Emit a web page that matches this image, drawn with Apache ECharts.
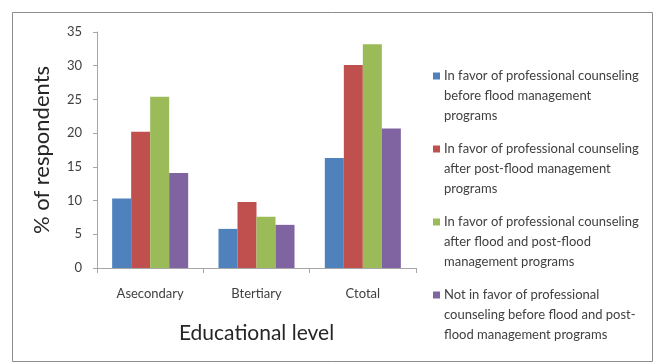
<!DOCTYPE html>
<html>
<head>
<meta charset="utf-8">
<script src="https://cdn.jsdelivr.net/npm/echarts@6/dist/echarts.min.js"></script>
<style>
  html, body { margin: 0; padding: 0; background: #fff; }
  #chart { width: 659px; height: 363px; }
</style>
</head>
<body>
<div id="chart"></div>
<script>
// Survey results: share of respondents by educational level
const categories = ['Asecondary', 'Btertiary', 'Ctotal'];

const seriesNames = [
  'In favor of professional counseling before flood management programs',
  'In favor of professional counseling after post-flood management programs',
  'In favor of professional counseling after flood and post-flood management programs',
  'Not in favor of professional counseling before flood and post-flood management programs'
];

// Wrapped legend text, one entry per series
const legendLines = [
  ['In favor of professional counseling', 'before flood management', 'programs'],
  ['In favor of professional counseling', 'after post-flood management', 'programs'],
  ['In favor of professional counseling', 'after flood and post-flood', 'management programs'],
  ['Not in favor of professional', 'counseling before flood and post-', 'flood management programs']
];

const beforeFlood = [10.3, 5.8, 16.3];
const afterPostFlood = [20.2, 9.8, 30.1];
const afterBoth = [25.4, 7.6, 33.2];
const notInFavor = [14.1, 6.4, 20.7];

const yTicks = { min: 0, max: 35, interval: 5 };

const colors = ['#4f81bd', '#c0504d', '#9bbb59', '#8064a2'];
const values = [beforeFlood, afterPostFlood, afterBoth, notInFavor];

const font = 'Lato, "Open Sans", sans-serif';
const textColor = '#404040';

const rich = { ind: { width: 11 }, t: { fontSize: 13, lineHeight: 20, color: textColor, fontFamily: font } };
colors.forEach((c, i) => {
  rich['sq' + i] = { width: 7, height: 7, backgroundColor: c };
  rich['g' + i] = { width: 4 };
});

const chart = echarts.init(document.getElementById('chart'), null, { renderer: 'canvas' });

chart.setOption({
  animation: false,
  backgroundColor: '#ffffff',
  textStyle: { fontFamily: font },
  graphic: [{
    type: 'rect',
    shape: { x: 12.5, y: 12.5, width: 640, height: 349 },
    style: { fill: 'none', stroke: '#8c8c8c', lineWidth: 1 },
    silent: true,
    z: -10
  }],
  grid: { left: 97, top: 32, width: 319, height: 236 },
  legend: {
    orient: 'vertical',
    left: 423,
    top: 61,
    icon: 'none',
    itemWidth: 0,
    itemHeight: 7,
    itemGap: 13,
    selectedMode: false,
    data: seriesNames,
    formatter: function (name) {
      const i = seriesNames.indexOf(name);
      const lines = legendLines[i];
      return lines.map((line, k) =>
        (k === 0 ? '{sq' + i + '|}{g' + i + '|}' : '{ind|}') + '{t|' + line + '}'
      ).join('\n');
    },
    textStyle: { rich: rich, lineHeight: 20 }
  },
  xAxis: {
    type: 'category',
    data: categories,
    name: 'Educational level',
    nameLocation: 'middle',
    nameGap: 55,
    nameTextStyle: { fontSize: 21, color: '#262626', fontFamily: font },
    axisLine: { lineStyle: { color: '#a6a6a6', width: 1 } },
    axisTick: { show: true, length: 5, alignWithLabel: false, lineStyle: { color: '#a6a6a6' } },
    axisLabel: { fontSize: 13, color: textColor, margin: 19 }
  },
  yAxis: {
    type: 'value',
    min: yTicks.min,
    max: yTicks.max,
    interval: yTicks.interval,
    name: '% of respondents',
    nameLocation: 'middle',
    nameGap: 44,
    nameTextStyle: { fontSize: 22, color: '#262626', fontFamily: font },
    axisLine: { show: true, lineStyle: { color: '#a6a6a6', width: 1 } },
    axisTick: { show: true, length: 4, lineStyle: { color: '#a6a6a6' } },
    axisLabel: { fontSize: 13, color: textColor, margin: 15 },
    splitLine: { show: false }
  },
  series: seriesNames.map((name, i) => ({
    name: name,
    type: 'bar',
    data: values[i],
    barGap: '0%',
    barCategoryGap: '28.5%',
    itemStyle: { color: colors[i] }
  }))
});
</script>
</body>
</html>
